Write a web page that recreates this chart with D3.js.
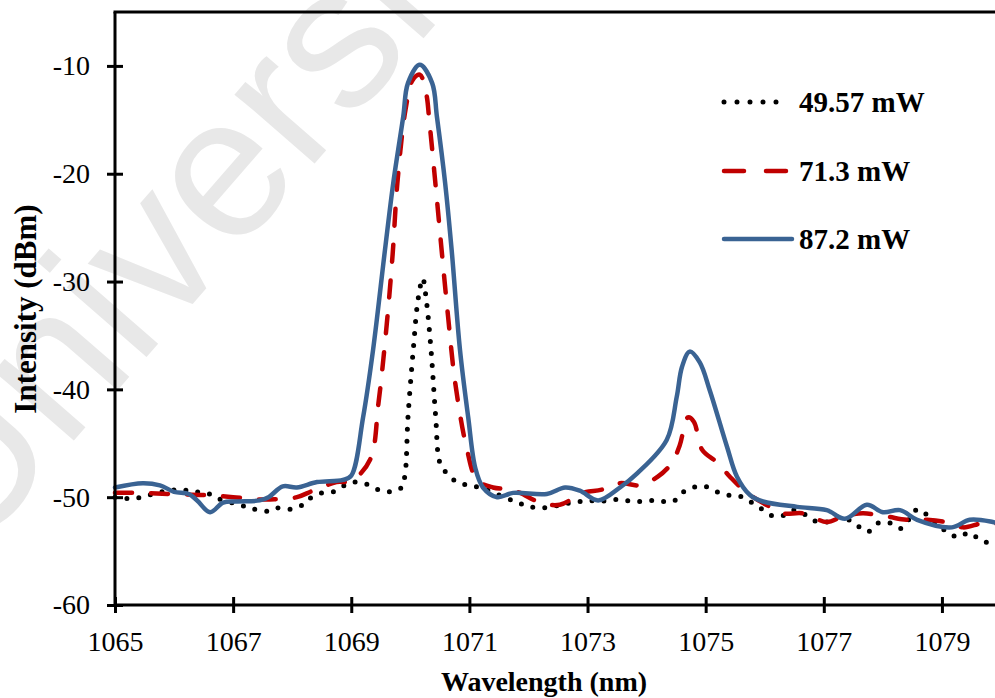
<!DOCTYPE html>
<html>
<head>
<meta charset="utf-8">
<script src="https://d3js.org/d3.v7.min.js"></script>
<style>
  body { margin: 0; background: #fff; }
  .tick text { font-family: 'Liberation Serif', 'Times New Roman', serif; font-size: 28px; fill: #000; }
  .axis-label, .legend-text { font-family: 'Liberation Serif', 'Times New Roman', serif; font-weight: bold; font-size: 28px; fill: #000; }
  .legend-text { font-size: 29px; }
</style>
</head>
<body>
<svg width="995" height="698"></svg>
<script>
// 49.57 mW (dotted black)
const wl49 = [1065.0, 1065.08, 1065.3, 1065.47, 1065.7, 1066.1, 1066.32, 1066.55, 1066.73, 1067.1, 1067.35, 1067.6, 1067.75, 1067.98, 1068.18, 1068.3, 1068.5, 1068.7, 1068.89, 1069.06, 1069.26, 1069.45, 1069.65, 1069.85, 1069.91, 1069.96, 1070.05, 1070.13, 1070.21, 1070.27, 1070.35, 1070.43, 1070.5, 1070.62, 1070.79, 1070.98, 1071.18, 1071.5, 1071.77, 1071.97, 1072.16, 1072.4, 1072.6, 1072.79, 1073.0, 1073.2, 1073.43, 1073.64, 1073.84, 1074.06, 1074.26, 1074.45, 1074.6, 1074.79, 1074.99, 1075.19, 1075.38, 1075.58, 1075.78, 1075.95, 1076.12, 1076.31, 1076.48, 1076.68, 1076.85, 1077.05, 1077.3, 1077.58, 1077.75, 1077.92, 1078.12, 1078.31, 1078.45, 1078.59, 1078.76, 1078.92, 1079.08, 1079.27, 1079.46, 1079.63, 1079.81, 1080.0];
const db49 = [-50.0, -50.1, -50.1, -50.0, -49.6, -49.3, -49.5, -49.6, -50.1, -50.7, -51.1, -51.3, -51.0, -51.1, -50.7, -50.1, -49.6, -49.5, -48.9, -48.6, -48.8, -49.3, -49.5, -49.1, -47.9, -42.6, -36.3, -31.7, -29.7, -31.7, -36.3, -42.6, -46.8, -47.8, -48.6, -48.9, -49.1, -49.8, -50.4, -50.8, -51.0, -50.9, -50.6, -50.5, -50.3, -50.4, -50.2, -50.3, -50.4, -50.3, -50.4, -50.4, -49.6, -49.1, -49.0, -49.5, -49.8, -49.9, -50.5, -51.1, -51.7, -51.7, -51.2, -51.6, -52.2, -52.3, -51.8, -52.7, -53.2, -52.4, -52.4, -52.9, -52.0, -51.1, -51.7, -52.5, -53.2, -53.7, -53.3, -53.9, -54.3, -54.6];

// 71.3 mW (dashed red)
const wl71 = [1065.0, 1065.4, 1065.9, 1066.5, 1067.0, 1067.4, 1067.7, 1068.08, 1068.35, 1068.75, 1069.0, 1069.32, 1069.46, 1069.6, 1069.7, 1069.78, 1069.92, 1070.04, 1070.16, 1070.27, 1070.32, 1070.44, 1070.53, 1070.64, 1070.76, 1070.96, 1071.13, 1071.4, 1071.7, 1071.86, 1072.2, 1072.53, 1072.92, 1073.24, 1073.55, 1073.89, 1074.19, 1074.43, 1074.56, 1074.7, 1074.8, 1074.94, 1075.2, 1075.41, 1075.7, 1076.09, 1076.31, 1076.65, 1077.05, 1077.32, 1077.66, 1078.07, 1078.4, 1078.75, 1079.05, 1079.36, 1079.7, 1080.0];
const db71 = [-49.6, -49.6, -49.7, -49.8, -50.0, -50.2, -50.2, -50.0, -49.4, -48.6, -48.5, -46.5, -41.3, -34.0, -27.5, -20.9, -14.0, -11.3, -10.8, -12.6, -15.0, -21.8, -27.1, -33.3, -39.4, -45.6, -48.4, -49.1, -49.3, -49.6, -50.5, -50.7, -49.6, -49.3, -48.7, -48.9, -48.1, -46.8, -45.2, -42.6, -43.0, -45.6, -46.8, -48.1, -49.6, -50.9, -51.5, -51.5, -52.3, -51.8, -51.5, -51.8, -52.1, -52.1, -52.3, -52.8, -52.4, -52.5];

// 87.2 mW (solid blue)
const wl87 = [1065.0, 1065.47, 1065.76, 1066.0, 1066.25, 1066.39, 1066.61, 1066.83, 1067.07, 1067.45, 1067.6, 1067.84, 1068.08, 1068.42, 1068.86, 1069.0, 1069.2, 1069.37, 1069.57, 1069.71, 1069.88, 1069.96, 1070.16, 1070.37, 1070.45, 1070.59, 1070.7, 1070.84, 1070.98, 1071.1, 1071.23, 1071.47, 1071.74, 1072.31, 1072.62, 1072.87, 1073.18, 1073.55, 1073.84, 1074.34, 1074.51, 1074.6, 1074.73, 1074.9, 1075.07, 1075.36, 1075.53, 1075.75, 1075.97, 1076.55, 1077.05, 1077.36, 1077.73, 1078.0, 1078.29, 1078.58, 1079.17, 1079.47, 1079.86, 1080.0];
const db87 = [-49.1, -48.7, -48.9, -49.5, -49.7, -50.3, -51.4, -50.5, -50.4, -50.3, -50.0, -49.0, -49.1, -48.6, -48.4, -48.0, -42.6, -36.3, -27.1, -20.9, -14.7, -11.6, -9.9, -11.6, -14.7, -20.9, -27.1, -36.3, -42.6, -47.3, -49.1, -50.0, -49.6, -49.7, -49.1, -49.4, -50.3, -49.1, -47.8, -44.7, -40.7, -37.9, -36.5, -37.5, -40.1, -45.3, -48.1, -49.8, -50.4, -50.9, -51.2, -52.0, -50.7, -51.4, -51.2, -52.1, -52.8, -52.1, -52.3, -52.5];

const xTicks = [1065, 1067, 1069, 1071, 1073, 1075, 1077, 1079];
const yTicks = [-60, -50, -40, -30, -20, -10];
const seriesNames = ['49.57 mW', '71.3 mW', '87.2 mW'];

const svg = d3.select('svg');
const plotLeft = 115, plotRight = 1001, plotTop = 12, plotBottom = 605;

const xScale = d3.scaleLinear().domain([1065, 1080]).range([plotLeft, plotRight]);
const yScale = d3.scaleLinear().domain([-60, -5]).range([plotBottom, plotTop]);

// faint watermark behind everything
svg.append('text')
    .attr('transform', 'translate(-30,560) rotate(-49)')
    .style('font-family', "'Liberation Sans', Arial, sans-serif")
    .style('font-size', '200px')
    .style('fill', '#e8e8e8')
    .text('University');

const styles = [
  { color: '#000000', dash: '0,12', width: 5, legendDash: '0,13' },
  { color: '#c00000', dash: '17,19', width: 4.5, legendDash: '20,22' },
  { color: '#3a6393', dash: null, width: 4.5, legendDash: null }
];
const series = [
  wl49.map((w, i) => ({ x: w, y: db49[i] })),
  wl71.map((w, i) => ({ x: w, y: db71[i] })),
  wl87.map((w, i) => ({ x: w, y: db87[i] }))
];

const line = d3.line()
    .x(d => xScale(d.x))
    .y(d => yScale(d.y))
    .curve(d3.curveCatmullRom.alpha(0.5));

series.forEach((s, i) => {
  svg.append('path')
      .datum(s)
      .attr('fill', 'none')
      .attr('stroke', styles[i].color)
      .attr('stroke-width', styles[i].width)
      .attr('stroke-linecap', 'round')
      .attr('stroke-linejoin', 'round')
      .attr('stroke-dasharray', styles[i].dash)
      .attr('d', line);
});

// axes (plain hyphen for negatives, as in the original)
const xAxis = d3.axisBottom(xScale).tickValues(xTicks).tickFormat(d => String(d)).tickSize(8).tickPadding(18);
const yAxis = d3.axisLeft(yScale).tickValues(yTicks).tickFormat(d => String(d)).tickSize(8).tickPadding(17);

const xAxisG = svg.append('g').attr('transform', `translate(0,${plotBottom})`).call(xAxis);
const yAxisG = svg.append('g').attr('transform', `translate(${plotLeft},0)`).call(yAxis);

[xAxisG, yAxisG].forEach(g => {
  g.select('.domain').remove();
  g.selectAll('.tick line').attr('stroke', '#000').attr('stroke-width', 3);
});
xAxisG.selectAll('.tick line').attr('y1', -8).attr('y2', 8);
yAxisG.selectAll('.tick line').attr('x1', -8).attr('x2', 8);

// frame lines
svg.append('line').attr('x1', plotLeft).attr('x2', 995).attr('y1', plotBottom).attr('y2', plotBottom)
    .attr('stroke', '#000').attr('stroke-width', 3);
svg.append('line').attr('x1', plotLeft).attr('x2', plotLeft).attr('y1', plotTop).attr('y2', plotBottom)
    .attr('stroke', '#000').attr('stroke-width', 3);
svg.append('line').attr('x1', plotLeft - 1.5).attr('x2', 995).attr('y1', plotTop).attr('y2', plotTop)
    .attr('stroke', '#000').attr('stroke-width', 3);

// axis titles
svg.append('text')
    .attr('class', 'axis-label')
    .attr('x', 544).attr('y', 691)
    .attr('text-anchor', 'middle')
    .text('Wavelength (nm)');

svg.append('text')
    .attr('class', 'axis-label')
    .attr('transform', 'translate(36,309) rotate(-90)')
    .attr('text-anchor', 'middle')
    .style('font-size', '31px')
    .text('Intensity (dBm)');

// legend
const legendY = [102, 171, 239];
seriesNames.forEach((name, i) => {
  svg.append('line')
      .attr('x1', 724).attr('x2', i === 2 ? 792 : 788)
      .attr('y1', legendY[i]).attr('y2', legendY[i])
      .attr('stroke', styles[i].color)
      .attr('stroke-width', styles[i].width)
      .attr('stroke-linecap', 'round')
      .attr('stroke-dasharray', styles[i].legendDash);
  svg.append('text')
      .attr('class', 'legend-text')
      .attr('x', 799).attr('y', legendY[i] + 10)
      .text(name);
});
</script>
</body>
</html>
